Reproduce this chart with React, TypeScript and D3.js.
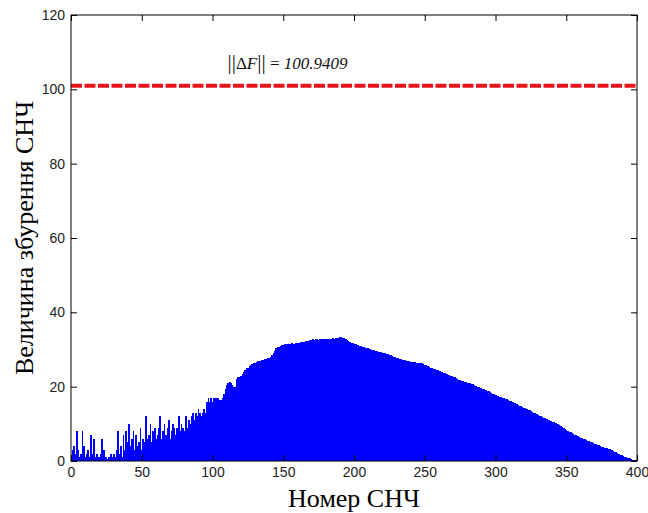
import React, { useEffect, useRef } from "react";
import * as d3 from "d3";

// perturbation magnitude per СНЧ number (1..400)
const values: number[] = [
  3, 4, 2, 8, 3, 1, 2, 8, 4, 1, 2, 3, 1, 7, 2, 6, 1, 2, 1, 1,
  2, 6, 3, 1, 1, 0.5, 1, 2, 1, 2, 1, 3, 8, 2, 4, 1, 7, 3, 8, 5,
  10, 4, 6, 8, 3, 7, 4, 5, 9, 3, 6, 5, 12, 6, 7, 10, 5, 8, 9, 6,
  7, 9, 12, 6, 8, 10, 7, 9, 11, 6, 8, 10, 9, 7, 9, 12, 8, 10, 9, 8,
  12, 9, 11, 10, 12, 13, 11, 13, 12, 14, 13, 12, 13, 14, 13, 16, 17, 16, 17, 16,
  17, 17, 17, 17, 16.5, 16.4, 17, 18, 19.5, 20.5, 21, 21.3, 21, 20.5, 20, 20, 22, 22.5, 22.7, 23,
  23.5, 24, 24.5, 25, 25, 25.5, 25.8, 26, 26.4, 26.5, 26.6, 26.8, 27, 27, 27.2, 27.3, 27.4, 27.5, 27.6, 27.7,
  28, 28.5, 29, 29.5, 30.4, 30.6, 30.8, 31, 31.2, 31.3, 31.5, 31.5, 31.4, 31.6, 31.5, 31.7, 31.5, 31.6, 31.8, 31.7,
  31.8, 32, 31.9, 32.1, 32, 32.3, 32.2, 32.4, 32.6, 32.5, 32.7, 32.6, 32.8, 32.7, 32.6, 32.8, 32.7, 32.9, 32.8, 32.7,
  32.8, 32.9, 32.7, 32.9, 33, 32.8, 33.1, 33, 33.2, 33.3, 33.4, 33.2, 33, 32.8, 32.5, 32.3, 32.1, 31.8, 31.7, 31.6,
  31.4, 31.3, 31.2, 31, 30.9, 30.8, 30.6, 30.5, 30.4, 30.3, 30.2, 30, 29.9, 29.8, 29.7, 29.6, 29.4, 29.3, 29.2, 29.1,
  29.1, 29, 28.8, 28.7, 28.5, 28.4, 28.2, 28, 27.9, 27.7, 27.6, 27.5, 27.4, 27.3, 27.2, 27.1, 27, 26.9, 26.8, 26.7,
  26.7, 26.6, 26.6, 26.5, 26.5, 26.4, 26.4, 26.3, 26.1, 25.9, 25.7, 25.5, 25.3, 25.1, 24.9, 24.8, 24.7, 24.6, 24.5, 24.3,
  24.2, 24, 23.8, 23.7, 23.5, 23.3, 23.1, 22.9, 22.8, 22.6, 22.5, 22.3, 22.1, 21.9, 21.8, 21.6, 21.5, 21.3, 21.2, 21,
  21, 20.9, 20.8, 20.6, 20.4, 20.2, 20, 19.9, 19.7, 19.6, 19.4, 19.3, 19.1, 18.9, 18.7, 18.5, 18.3, 18.1, 17.9, 17.8,
  17.6, 17.4, 17.3, 17.1, 17, 16.9, 16.7, 16.6, 16.4, 16.2, 16.1, 15.9, 15.7, 15.5, 15.3, 15.1, 14.9, 14.7, 14.5, 14.3,
  14.2, 14, 13.8, 13.6, 13.4, 13.2, 13, 12.8, 12.6, 12.4, 12.2, 12, 11.9, 11.7, 11.5, 11.3, 11.1, 10.9, 10.7, 10.5,
  10.4, 10.2, 10.1, 9.9, 9.7, 9.4, 9.2, 8.9, 8.7, 8.4, 8.2, 7.9, 7.7, 7.5, 7.3, 7.1, 6.9, 6.7, 6.5, 6.3,
  6.2, 6, 5.8, 5.6, 5.5, 5.3, 5.2, 5, 4.9, 4.7, 4.5, 4.4, 4.2, 4.1, 3.9, 3.8, 3.6, 3.5, 3.4, 3.2,
  3.1, 2.9, 2.7, 2.5, 2.3, 2.1, 1.9, 1.7, 1.5, 1.3, 1.2, 1, 0.9, 0.8, 0.7, 0.5, 0.4, 0.3, 0.2, 0.1,
];

const normValue = 100.9409;
const xTicks = [0, 50, 100, 150, 200, 250, 300, 350, 400];
const yTicks = [0, 20, 40, 60, 80, 100, 120];
const xLabel = "Номер СНЧ";
const yLabel = "Величина збурення СНЧ";

const App = () => {
  const ref = useRef<SVGSVGElement>(null);

  useEffect(() => {
    const width = 648;
    const height = 513;
    const m = { left: 71, right: 11, top: 15, bottom: 52 };
    const iw = width - m.left - m.right;
    const ih = height - m.top - m.bottom;

    const svg = d3.select(ref.current);
    svg.selectAll("*").remove();
    svg.attr("width", width).attr("height", height);

    svg.append("rect").attr("width", width).attr("height", height).attr("fill", "#fff");

    const x = d3.scaleLinear().domain([0, 400]).range([0, iw]);
    const y = d3.scaleLinear().domain([0, 120]).range([ih, 0]);

    const g = svg.append("g").attr("transform", `translate(${m.left},${m.top})`);

    // bars
    const bw = x(1) - x(0);
    g.append("g")
      .attr("shape-rendering", "crispEdges")
      .selectAll("rect")
      .data(values)
      .enter()
      .append("rect")
      .attr("x", (_, i) => x(i + 0.5))
      .attr("width", (_, i) => Math.min(bw + 0.4, iw - x(i + 0.5)))
      .attr("y", d => y(d))
      .attr("height", d => ih - y(d))
      .attr("fill", "#0000ff");

    // norm line
    g.append("line")
      .attr("x1", 0)
      .attr("x2", iw)
      .attr("y1", y(normValue))
      .attr("y2", y(normValue))
      .attr("stroke", "#e8141b")
      .attr("stroke-width", 4)
      .attr("stroke-dasharray", "11,2.5");

    // axes, ticks inward
    const fontTick = "'Liberation Sans', Arial, sans-serif";
    const styleAxis = (sel: any) => {
      sel.select(".domain").remove();
      sel.selectAll(".tick line").attr("stroke", "#000");
      sel.selectAll(".tick text")
        .attr("font-family", fontTick)
        .attr("font-size", 14)
        .attr("fill", "#222");
    };

    g.append("g")
      .attr("transform", `translate(0,${ih})`)
      .call(d3.axisBottom(x).tickValues(xTicks).tickFormat(d3.format("d")).tickSizeInner(-6).tickPadding(6))
      .call(styleAxis);
    g.append("g")
      .call(d3.axisTop(x).tickValues(xTicks).tickFormat(() => "").tickSizeInner(-6))
      .call(styleAxis);
    g.append("g")
      .call(d3.axisLeft(y).tickValues(yTicks).tickFormat(d3.format("d")).tickSizeInner(-6).tickPadding(6))
      .call(styleAxis);
    g.append("g")
      .attr("transform", `translate(${iw},0)`)
      .call(d3.axisRight(y).tickValues(yTicks).tickFormat(() => "").tickSizeInner(-6))
      .call(styleAxis);

    g.append("rect")
      .attr("width", iw)
      .attr("height", ih)
      .attr("fill", "none")
      .attr("stroke", "#000")
      .attr("stroke-width", 1);

    // annotation
    const serif = "'Liberation Serif', 'Times New Roman', serif";
    const ann = g.append("text")
      .attr("x", x(153))
      .attr("y", y(105.5))
      .attr("text-anchor", "middle")
      .attr("font-family", serif)
      .attr("font-size", 17)
      .attr("fill", "#111");
    ann.append("tspan").attr("font-size", 21).text("||");
    ann.append("tspan").text("Δ");
    ann.append("tspan").attr("font-style", "italic").text("F");
    ann.append("tspan").attr("font-size", 21).text("||");
    ann.append("tspan").text(" = ");
    ann.append("tspan").attr("font-style", "italic").text(normValue.toFixed(4));

    // axis titles
    svg.append("text")
      .attr("x", m.left + iw / 2)
      .attr("y", 507)
      .attr("text-anchor", "middle")
      .attr("font-family", serif)
      .attr("font-size", 26)
      .attr("fill", "#000")
      .text(xLabel);

    svg.append("text")
      .attr("transform", `translate(33,${m.top + ih / 2}) rotate(-90)`)
      .attr("text-anchor", "middle")
      .attr("font-family", serif)
      .attr("font-size", 26)
      .attr("fill", "#000")
      .text(yLabel);
  }, []);

  return (
    <div style={{ position: "absolute", left: 0, top: 0 }}>
      <svg ref={ref} style={{ display: "block" }}></svg>
    </div>
  );
};

export default App;
